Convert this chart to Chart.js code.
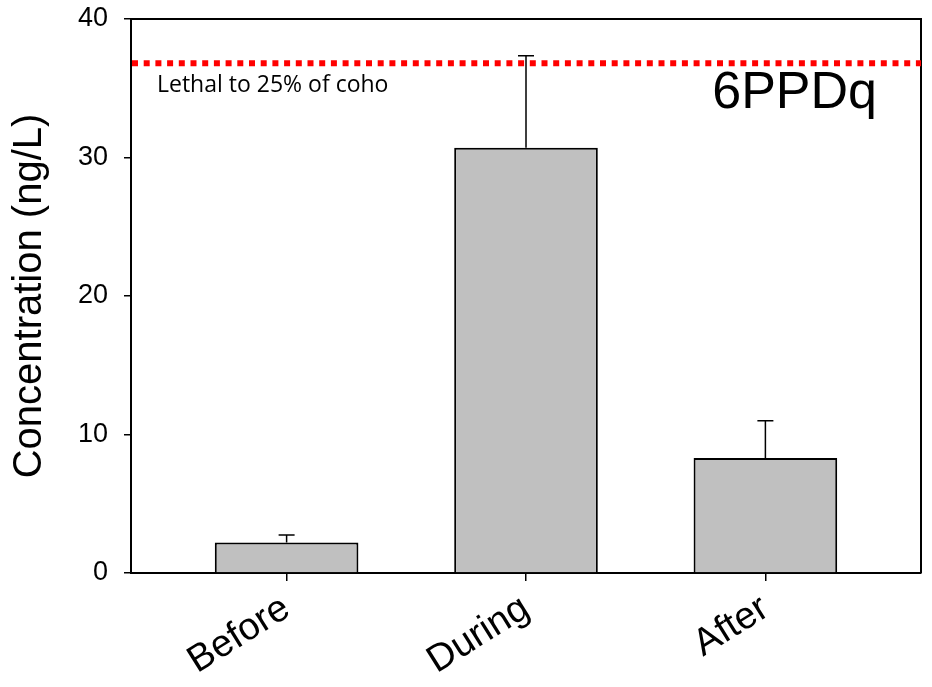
<!DOCTYPE html>
<html>
<head>
<meta charset="utf-8">
<script src="https://cdn.jsdelivr.net/npm/chart.js@4/dist/chart.umd.min.js"></script>
<style>
  body { margin: 0; background: #fff; }
  canvas { display: block; }
</style>
</head>
<body>
<canvas id="myChart" width="932" height="687"></canvas>
<script>
const categories = ['Before', 'During', 'After'];
const concentrations = [2.2, 30.7, 8.3];
const errorUpper = [0.55, 6.65, 2.7];
const yTicks = [0, 10, 20, 30, 40];
const lethalLevel = 36.8;
const lethalLabel = 'Lethal to 25% of coho';
const panelLabel = '6PPDq';

// error bars (upper only), frame and the dotted lethal line
const extras = {
    id: 'extras',
    afterDatasetsDraw(chart) {
        const ctx = chart.ctx;
        const x = chart.scales.x;
        const y = chart.scales.y;
        const area = chart.chartArea;

        ctx.save();
        ctx.strokeStyle = '#000';
        ctx.lineWidth = 1.5;
        concentrations.forEach((v, i) => {
            const px = x.getPixelForValue(i);
            const top = y.getPixelForValue(v);
            const end = y.getPixelForValue(v + errorUpper[i]);
            ctx.beginPath();
            ctx.moveTo(px, top);
            ctx.lineTo(px, end);
            ctx.moveTo(px - 8, end);
            ctx.lineTo(px + 8, end);
            ctx.stroke();
        });

        // top and right frame
        ctx.lineWidth = 2;
        ctx.beginPath();
        ctx.moveTo(area.left, area.top);
        ctx.lineTo(area.right, area.top);
        ctx.lineTo(area.right, area.bottom);
        ctx.stroke();

        // lethal line
        const ly = y.getPixelForValue(lethalLevel);
        ctx.strokeStyle = '#ff0000';
        ctx.lineWidth = 6;
        ctx.setLineDash([6, 5.7]);
        ctx.beginPath();
        ctx.moveTo(area.left + 1, ly);
        ctx.lineTo(area.right, ly);
        ctx.stroke();
        ctx.setLineDash([]);

        ctx.fillStyle = '#000';
        ctx.textBaseline = 'alphabetic';
        ctx.textAlign = 'left';
        ctx.font = '23px "Open Sans"';
        ctx.fillText(lethalLabel, area.left + 26, ly + 29);

        ctx.textAlign = 'right';
        ctx.font = '52px "Liberation Sans", Arial';
        ctx.fillText(panelLabel, area.right - 44, ly + 45);
        ctx.restore();
    }
};

new Chart(document.getElementById('myChart').getContext('2d'), {
    type: 'bar',
    data: {
        datasets: [{
            data: concentrations.map((v, i) => ({ x: i, y: v })),
            backgroundColor: '#c0c0c0',
            borderColor: '#000',
            borderWidth: 2,
            categoryPercentage: 1,
            barPercentage: 0.6
        }]
    },
    options: {
        responsive: false,
        animation: false,
        layout: { padding: { top: 19, right: 11, left: 0, bottom: 0 } },
        plugins: { legend: { display: false }, tooltip: { enabled: false } },
        scales: {
            x: {
                type: 'linear',
                min: -0.65,
                max: 2.65,
                offset: false,
                afterBuildTicks: axis => { axis.ticks = categories.map((c, i) => ({ value: i })); },
                afterFit: axis => {
                    axis.height = 114;
                    axis.paddingLeft = 0;
                    axis.paddingRight = 0;
                },
                border: { display: true, color: '#000', width: 2 },
                grid: { offset: false, drawOnChartArea: false, drawTicks: true, tickLength: 8, color: '#000', lineWidth: 1.5 },
                ticks: {
                    callback: v => categories[v],
                    minRotation: 32,
                    maxRotation: 32,
                    padding: 5,
                    color: '#000',
                    font: { family: '"Liberation Sans", Arial', size: 38 }
                }
            },
            y: {
                min: 0,
                max: 40,
                afterBuildTicks: axis => { axis.ticks = yTicks.map(v => ({ value: v })); },
                afterFit: axis => {
                    axis.width = 131;
                    axis.paddingTop = 0;
                    axis.paddingBottom = 0;
                },
                border: { display: true, color: '#000', width: 2 },
                grid: { drawOnChartArea: false, drawTicks: true, tickLength: 7, color: '#000', lineWidth: 1.5 },
                ticks: {
                    padding: 16,
                    color: '#000',
                    font: { family: '"Liberation Sans", Arial', size: 27 }
                },
                title: {
                    display: true,
                    text: 'Concentration (ng/L)',
                    color: '#000',
                    padding: { top: 6, bottom: 0 },
                    font: { family: '"Liberation Sans", Arial', size: 40 }
                }
            }
        }
    },
    plugins: [extras]
});
</script>
</body>
</html>
